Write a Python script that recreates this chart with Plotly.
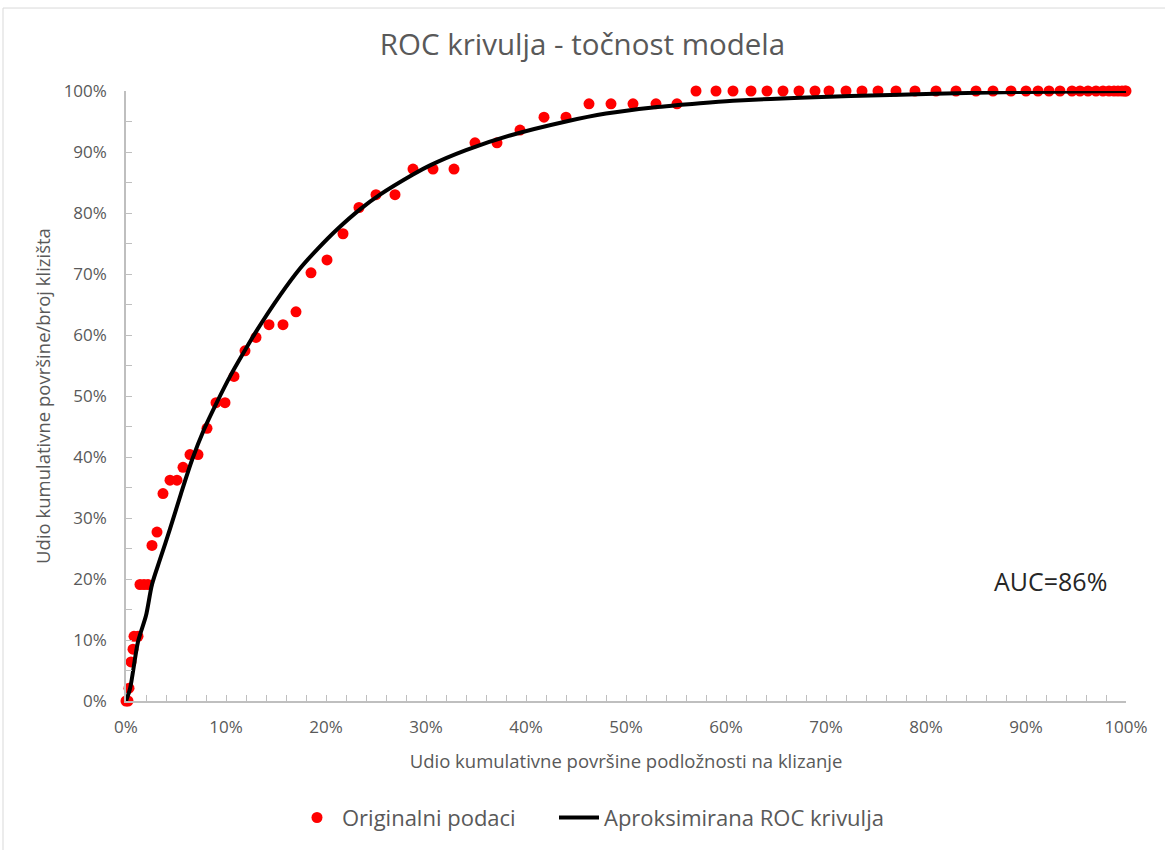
import plotly.graph_objects as go

# Original data points (x = cumulative susceptible area %, y = cumulative landslide share %)
orig_x = [0.0, 0.2, 0.3, 0.5, 0.7, 0.8, 1.2, 1.4, 1.8, 2.2, 2.6, 3.1, 3.7, 4.4, 5.1,
          5.7, 6.4, 7.2, 8.1, 9.0, 9.9, 10.8, 11.9, 13.0, 14.3, 15.7, 17.0, 18.5,
          20.1, 21.7, 23.3, 25.0, 26.9, 28.7, 30.7, 32.8, 34.9, 37.1, 39.4, 41.8,
          44.0, 46.3, 48.5, 50.7, 53.0, 55.1,
          57.0, 59.0, 60.7, 62.5, 64.1, 65.7, 67.3, 68.9, 70.3, 72.0, 73.6, 75.2,
          77.0, 78.9, 81.0, 83.0, 85.0, 86.7, 88.5, 90.0, 91.2, 92.3, 93.4, 94.6,
          95.4, 96.2, 97.0, 97.7, 98.3, 98.8, 99.2, 99.6, 99.9, 100.0]
orig_y = [0.0, 0.0, 2.1, 6.4, 8.5, 10.6, 10.6, 19.1, 19.1, 19.1, 25.5, 27.7, 34.0, 36.2, 36.2,
          38.3, 40.4, 40.4, 44.7, 48.9, 48.9, 53.2, 57.4, 59.6, 61.7, 61.7, 63.8, 70.2,
          72.3, 76.6, 80.9, 83.0, 83.0, 87.2, 87.2, 87.2, 91.5, 91.5, 93.6, 95.7,
          95.7, 97.9, 97.9, 97.9, 97.9, 97.9,
          100, 100, 100, 100, 100, 100, 100, 100, 100, 100, 100, 100,
          100, 100, 100, 100, 100, 100, 100, 100, 100, 100, 100, 100,
          100, 100, 100, 100, 100, 100, 100, 100, 100, 100]

# Approximated ROC curve
roc_x = [0.0, 0.4, 1.2, 2.0, 2.6, 3.4, 4.4, 5.5, 6.6, 7.8, 9.1, 10.5, 11.9, 13.1,
         15.4, 17.4, 19.1, 21.1, 23.4, 25.4, 28.7, 30.4, 34.0, 38.4, 44.0, 48.0,
         52.7, 57.4, 60.7, 67.4, 77.4, 85.0, 90.0, 100.0]
roc_y = [0.0, 2.0, 9.7, 14.0, 19.1, 23.2, 28.2, 34.0, 39.5, 44.5, 49.0, 53.5, 57.5, 60.8,
         66.5, 70.9, 74.0, 77.3, 80.6, 83.0, 86.3, 87.8, 90.3, 92.7, 95.0, 96.3,
         97.3, 98.0, 98.4, 98.9, 99.4, 99.7, 99.85, 100.0]

tick_vals = [0, 10, 20, 30, 40, 50, 60, 70, 80, 90, 100]
tick_text = ['0%', '10%', '20%', '30%', '40%', '50%', '60%', '70%', '80%', '90%', '100%']

GREY = '#595959'
AXIS = '#BFBFBF'

fig = go.Figure()

fig.add_trace(go.Scatter(
    x=orig_x, y=orig_y,
    mode='markers',
    name='Originalni podaci',
    marker=dict(color='#FF0000', size=11),
    cliponaxis=False,
    legend='legend'
))

fig.add_trace(go.Scatter(
    x=roc_x, y=roc_y,
    mode='lines',
    name='Aproksimirana ROC krivulja',
    line=dict(color='black', width=4, shape='spline', smoothing=0.8),
    cliponaxis=False,
    legend='legend2'
))

fig.add_annotation(
    x=92.4, y=19.6, xref='x', yref='y',
    text='AUC=86%', showarrow=False,
    font=dict(size=25, color='#262626')
)

# outer chart border
fig.add_shape(
    type='rect', xref='paper', yref='paper',
    x0=-0.123, y0=-0.4, x1=1.2, y1=1.136,
    line=dict(color='#D9D9D9', width=1)
)

legend_style = dict(
    orientation='h',
    xanchor='left',
    y=-0.155, yanchor='top',
    font=dict(size=22, color=GREY),
    itemwidth=40,
    bgcolor='rgba(0,0,0,0)'
)

fig.update_layout(
    width=1165, height=850,
    plot_bgcolor='white',
    paper_bgcolor='white',
    font=dict(family='Open Sans, sans-serif', color=GREY, size=17),
    title=dict(
        text='ROC krivulja - točnost modela',
        x=0.5, xref='container', xanchor='center',
        y=0.947, yref='container', yanchor='middle',
        font=dict(size=29.5, color=GREY)
    ),
    margin=dict(l=126, r=39, t=91, b=148),
    showlegend=True,
    legend=dict(x=0.166, **legend_style),
    legend2=dict(x=0.428, **legend_style)
)

fig.update_xaxes(
    range=[0, 100],
    tickvals=tick_vals, ticktext=tick_text,
    showgrid=False, zeroline=False,
    showline=True, linecolor=AXIS, linewidth=1.5,
    ticks='inside', ticklen=6, tickcolor=AXIS,
    minor=dict(dtick=2, ticks='inside', ticklen=6, tickcolor=AXIS),
    automargin=False,
    ticklabelstandoff=10,
    title=dict(text='Udio kumulativne površine podložnosti na klizanje',
               font=dict(size=18.5, color=GREY), standoff=18),
    tickfont=dict(size=17, color=GREY)
)

fig.update_yaxes(
    range=[0, 100],
    tickvals=tick_vals, ticktext=tick_text,
    showgrid=False, zeroline=False,
    showline=True, linecolor=AXIS, linewidth=1.5,
    ticks='inside', ticklen=6, tickcolor=AXIS,
    minor=dict(dtick=5, ticks='inside', ticklen=6, tickcolor=AXIS),
    automargin=False,
    ticklabelstandoff=14,
    title=dict(text='Udio kumulativne površine/broj klizišta',
               font=dict(size=18.5, color=GREY), standoff=8),
    tickfont=dict(size=17, color=GREY)
)

fig.write_html("out.html", config={'displayModeBar': False},
               post_script="document.body.style.margin='0px';")
